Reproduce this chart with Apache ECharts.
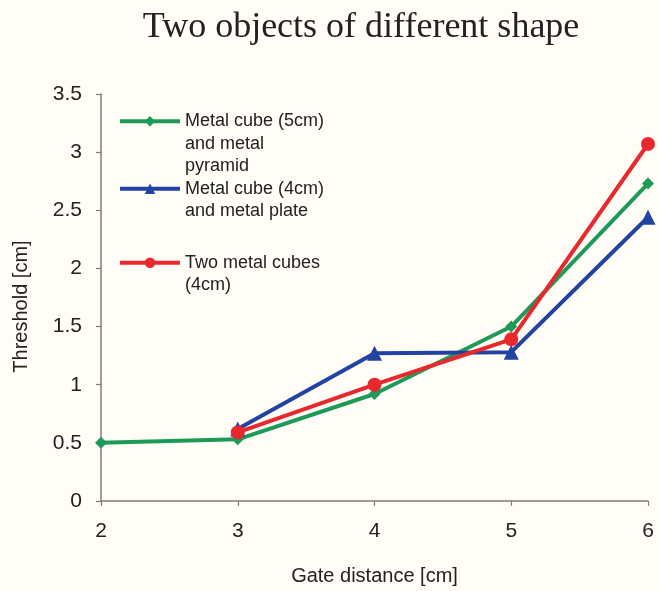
<!DOCTYPE html>
<html>
<head>
<meta charset="utf-8">
<script src="https://cdn.jsdelivr.net/npm/echarts@6/dist/echarts.min.js"></script>
<style>
html,body{margin:0;padding:0;background:#fffdf6;}
#chart{width:658px;height:591px;}
</style>
</head>
<body>
<div id="chart"></div>
<script>
var titleText = 'Two objects of different shape';
var xName = 'Gate distance [cm]';
var yName = 'Threshold [cm]';
var gateDistance = [2, 3, 4, 5, 6];
var seriesNames = ['Metal cube (5cm)\nand metal\npyramid', 'Metal cube (4cm)\nand metal plate', 'Two metal cubes\n(4cm)'];
var cube5Pyramid = [0.50, 0.53, 0.92, 1.50, 2.73];
var cube4Plate = [null, 0.62, 1.27, 1.28, 2.44];
var twoCubes = [null, 0.59, 1.00, 1.39, 3.07];
var colors = ['#1e9a58', '#2343a3', '#e8282c'];
var symbols = ['diamond', 'triangle', 'circle'];
var symbolSizes = [12, 15, 14];

function pairs(vals) {
  return gateDistance.map(function (x, i) { return [x, vals[i]]; })
    .filter(function (d) { return d[1] !== null; });
}
var allVals = [cube5Pyramid, cube4Plate, twoCubes];
var LH = 22.5;
var legendIconY = [121, 189, 263];
var fontSans = 'Liberation Sans, Arial, sans-serif';

var series = allVals.map(function (v, k) {
  return {
    name: seriesNames[k],
    type: 'line',
    data: pairs(v),
    symbol: symbols[k],
    symbolSize: symbolSizes[k],
    color: colors[k],
    lineStyle: { width: 4, color: colors[k] },
    itemStyle: { color: colors[k] },
    z: 2 + k
  };
});

var legends = seriesNames.map(function (n, k) {
  var lines = n.split('\n').length;
  var boxH = (2 * lines - 1) * LH;
  return {
    data: [n],
    left: 118,
    top: Math.round(legendIconY[k] - boxH / 2),
    padding: 0,
    itemWidth: 60,
    itemHeight: 13,
    orient: 'vertical',
    lineStyle: { width: 4 },
    formatter: function (name) {
      var parts = name.split('\n');
      return '{sp' + parts.length + '| }\n' + parts.map(function (p) { return '{t|' + p + '}'; }).join('\n');
    },
    textStyle: {
      fontFamily: fontSans,
      fontSize: 18,
      color: '#222',
      lineHeight: LH,
      rich: {
        t: { fontFamily: fontSans, fontSize: 18, color: '#222', lineHeight: LH },
        sp3: { fontSize: 2, lineHeight: 2 * LH, height: 2 * LH },
        sp2: { fontSize: 2, lineHeight: LH, height: LH }
      }
    },
    selectedMode: false
  };
});

var axisColor = '#857a78';
var chart = echarts.init(document.getElementById('chart'));
chart.setOption({
  backgroundColor: '#fffdf6',
  animation: false,
  title: {
    text: titleText,
    left: 356,
    textAlign: 'center',
    top: 5,
    textStyle: { fontFamily: 'Liberation Serif, Times New Roman, serif', fontSize: 36, fontWeight: 'normal', color: '#222' }
  },
  legend: legends,
  grid: { left: 101, right: 10, top: 94, bottom: 88, containLabel: false },
  xAxis: {
    type: 'value', min: 2, max: 6, interval: 1,
    name: xName, nameLocation: 'middle', nameGap: 65,
    nameTextStyle: { fontFamily: fontSans, fontSize: 20, color: '#222' },
    axisLine: { show: true, lineStyle: { color: axisColor, width: 1.5 } },
    axisTick: { show: true, length: 5, lineStyle: { color: axisColor, width: 1.2 } },
    axisLabel: { margin: 20, fontFamily: fontSans, fontSize: 21, color: '#222' },
    splitLine: { show: false }
  },
  yAxis: {
    type: 'value', min: 0, max: 3.5, interval: 0.5,
    name: yName, nameLocation: 'middle', nameGap: 70,
    nameTextStyle: { fontFamily: fontSans, fontSize: 20, color: '#222', padding: [0, 18, 0, 0] },
    axisLine: { show: true, lineStyle: { color: axisColor, width: 1.5 } },
    axisTick: { show: true, length: 5, lineStyle: { color: axisColor, width: 1.2 } },
    axisLabel: { margin: 19, fontFamily: fontSans, fontSize: 21, color: '#222' },
    splitLine: { show: false }
  },
  series: series
});
</script>
</body>
</html>
